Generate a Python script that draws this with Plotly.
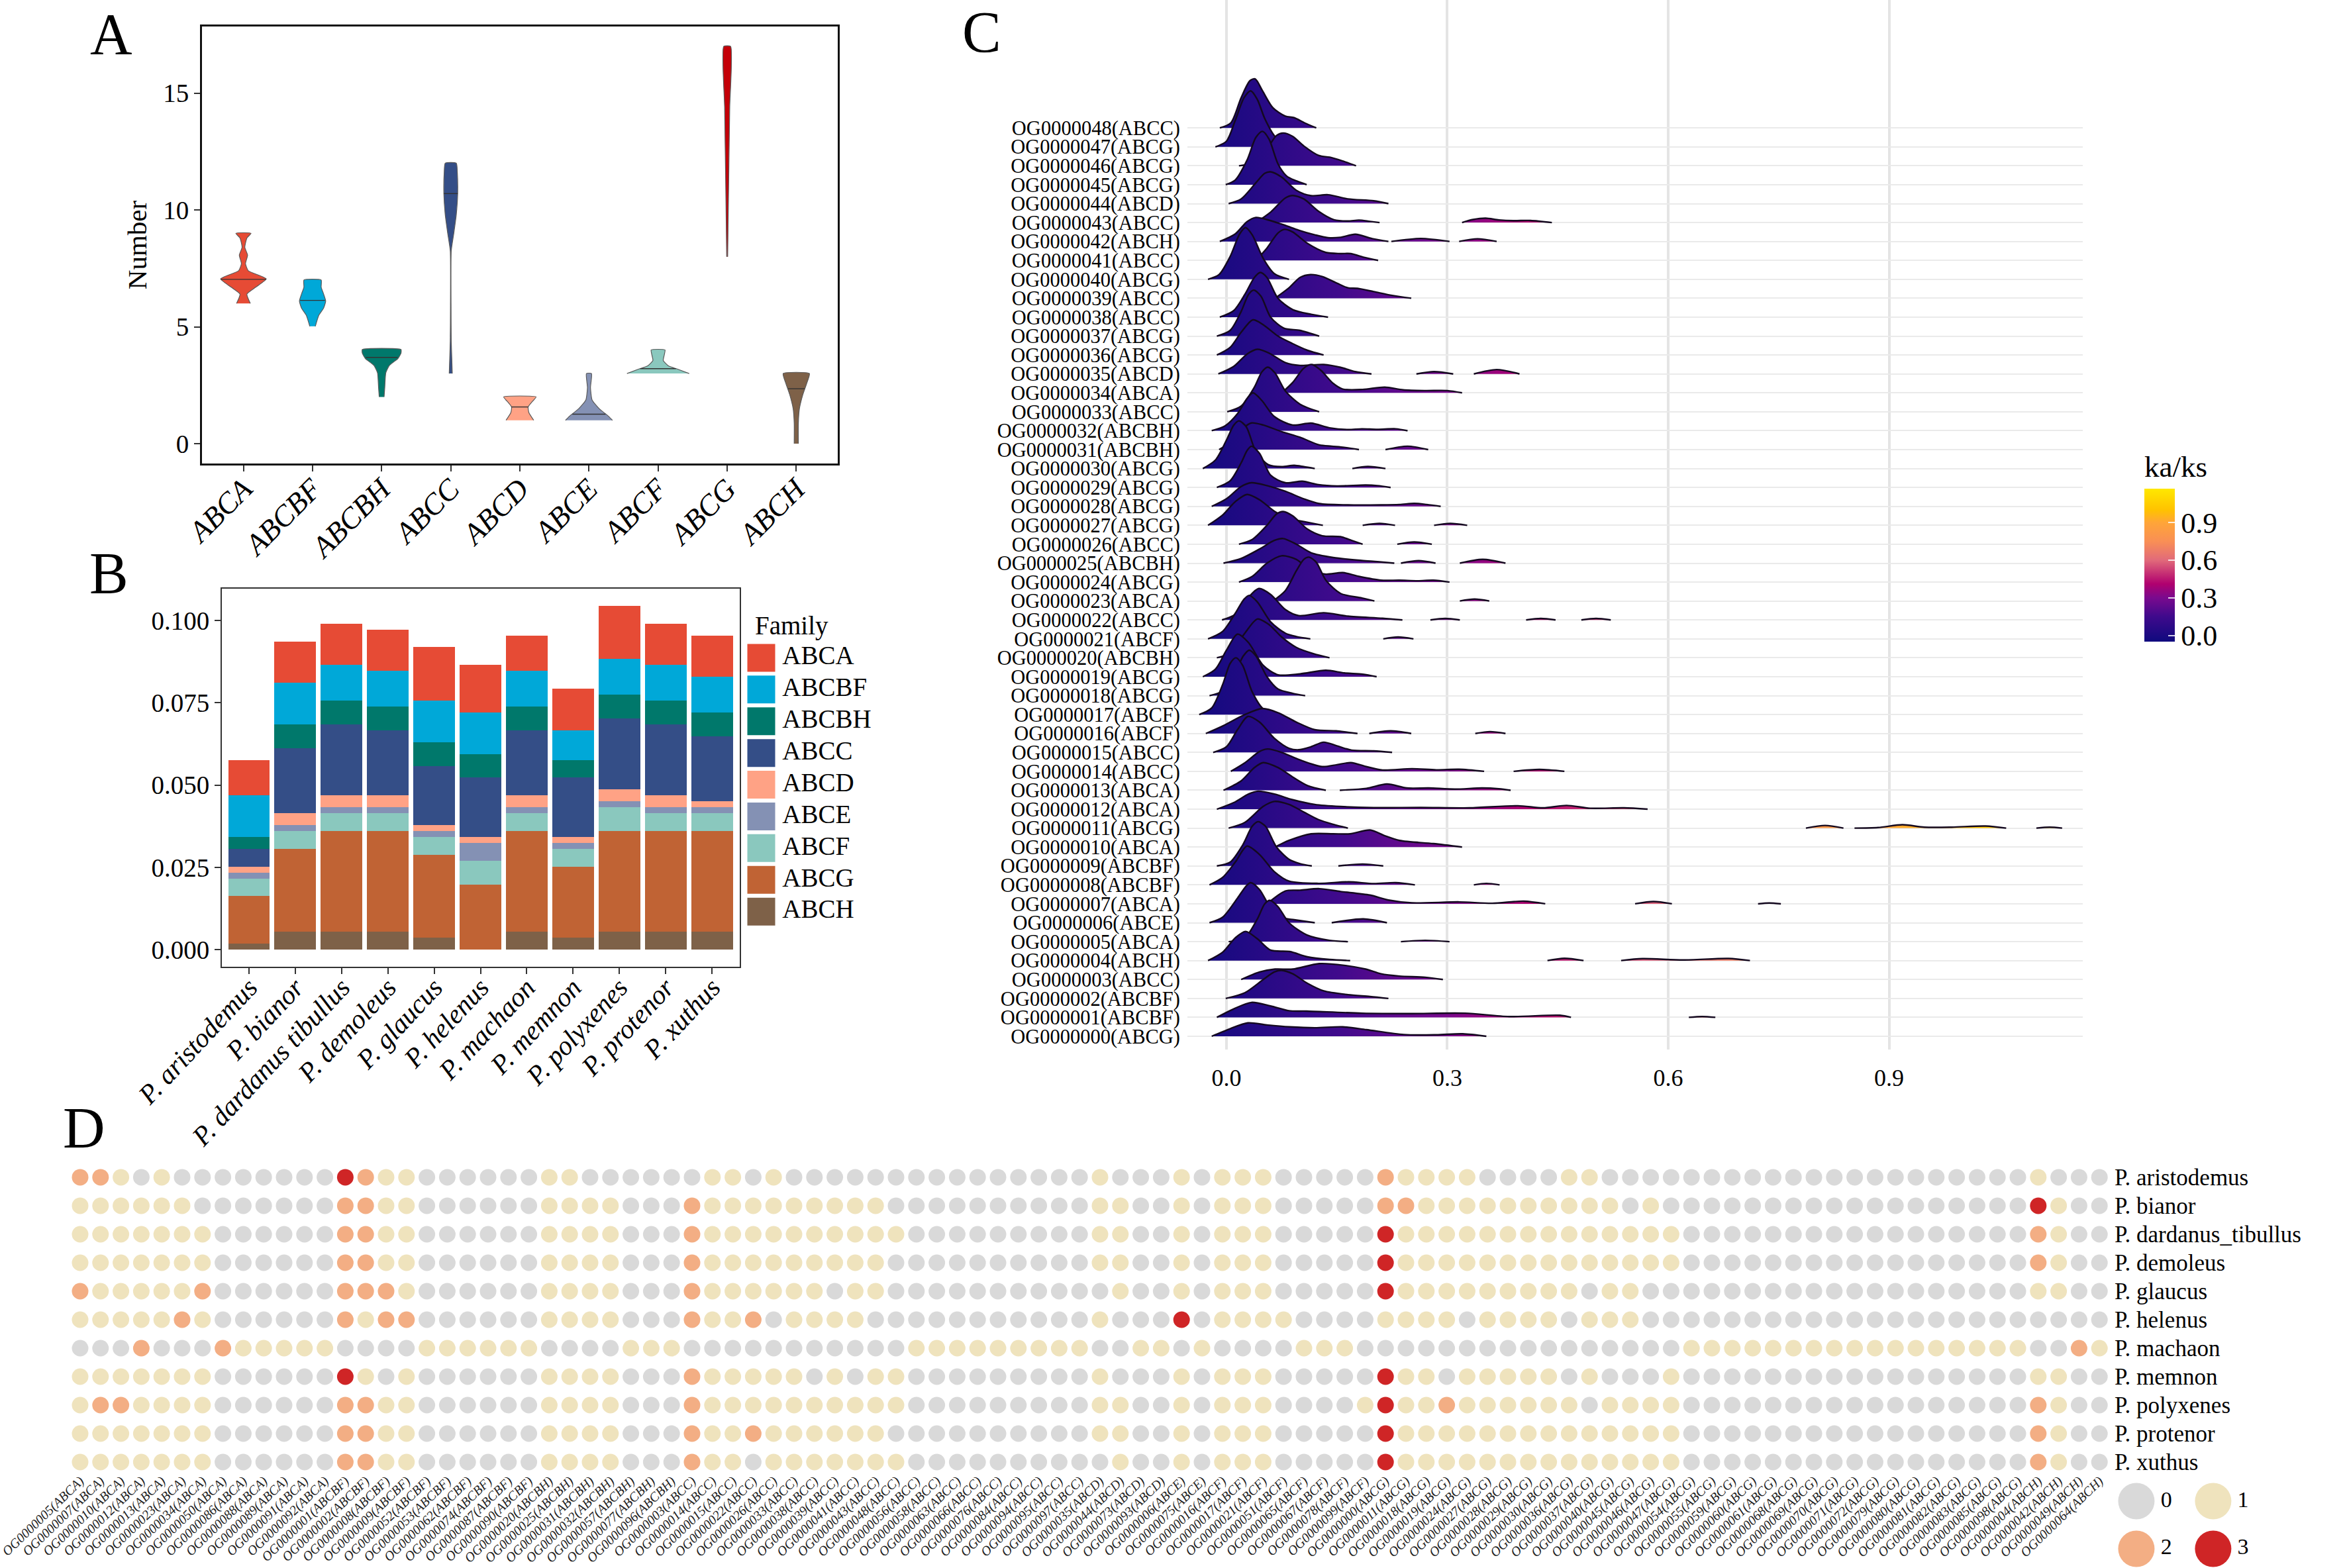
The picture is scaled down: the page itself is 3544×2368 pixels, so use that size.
import plotly.graph_objects as go

W, H = 3544, 2368
FONT = "Liberation Serif"

# ---------- Panel A: violin profiles (y level, half width in category units)
families = ["ABCA", "ABCBF", "ABCBH", "ABCC", "ABCD", "ABCE", "ABCF", "ABCG", "ABCH"]
violin_colors = ["#E64B35", "#00A8D8", "#00786B", "#344E87", "#FFA285", "#8491B4", "#8AC8BE", "#C40008", "#7E6148"]
violin_y = [
    [6.0, 6.4, 6.7, 7.05, 7.4, 7.7, 8.07, 8.4, 8.8, 9.0],
    [5.02, 5.49, 5.8, 6.1, 6.4, 6.7, 7.0],
    [2.0, 2.4, 3.03, 3.34, 3.64, 3.87, 4.03],
    [3.0, 3.64, 4.4, 5.95, 8.25, 9.0, 9.8, 10.7, 11.6, 12.0],
    [1.0, 1.33, 1.57, 1.8, 2.0],
    [1.0, 1.18, 1.49, 1.87, 2.4, 3.0],
    [3.0, 3.18, 3.33, 3.56, 3.8, 4.01],
    [8.0, 11.3, 14.4, 17.0],
    [0.0, 0.88, 1.49, 2.1, 2.57, 3.0],
]
violin_w = [
    [.10, .05, .18, .33, .07, .03, .06, .02, .05, .11],
    [.04, .09, .16, .19, .16, .125, .125],
    [.035, .045, .06, .11, .235, .28, .28],
    [.022, .015, .007, .004, .007, .044, .08, .10, .095, .08],
    [.20, .13, .12, .18, .235],
    [.34, .28, .15, .045, .022, .037],
    [.45, .29, .15, .075, .09, .10],
    [.007, .022, .037, .05],
    [.03, .03, .045, .095, .15, .19],
]
violin_median = [7.03, 6.13, 3.69, 10.7, 1.57, 1.26, 3.21, None, 2.35]
violin_median_w = [.33, .18, .23, .10, .12, .24, .26, None, .12]

# ---------- Panel B: gene counts per species, shown as proportion of 555
species = ["P. aristodemus", "P. bianor", "P. dardanus tibullus", "P. demoleus", "P. glaucus", "P. helenus",
           "P. machaon", "P. memnon", "P. polyxenes", "P. protenor", "P. xuthus"]
bar_colors = ["#E64B35", "#00A8D8", "#00786B", "#344E87", "#FFA285", "#8491B4", "#8AC8BE", "#C06334", "#7E6148"]
total_genes = 555
count_ABCA = [6, 7, 7, 7, 9, 8, 6, 7, 9, 7, 7]
count_ABCBF = [7, 7, 6, 6, 7, 7, 6, 5, 6, 6, 6]
count_ABCBH = [2, 4, 4, 4, 4, 4, 4, 3, 4, 4, 4]
count_ABCC = [3, 11, 12, 11, 10, 10, 11, 10, 12, 12, 11]
count_ABCD = [1, 2, 2, 2, 1, 1, 2, 1, 2, 2, 1]
count_ABCE = [1, 1, 1, 1, 1, 3, 1, 1, 1, 1, 1]
count_ABCF = [3, 3, 3, 3, 3, 4, 3, 3, 4, 3, 3]
count_ABCG = [8, 14, 17, 17, 14, 11, 17, 12, 17, 17, 17]
count_ABCH = [1, 3, 3, 3, 2, 0, 3, 2, 3, 3, 3]
counts = [count_ABCA, count_ABCBF, count_ABCBH, count_ABCC, count_ABCD, count_ABCE, count_ABCF, count_ABCG, count_ABCH]

# ---------- Panel C: ridgelines. Row number -> segments of x and density (in row heights)
ridge_labels = {48: "ABCC", 47: "ABCG", 46: "ABCG", 45: "ABCG", 44: "ABCD", 43: "ABCC", 42: "ABCH", 41: "ABCC",
                40: "ABCG", 39: "ABCC", 38: "ABCC", 37: "ABCG", 36: "ABCG", 35: "ABCD", 34: "ABCA", 33: "ABCC",
                32: "ABCBH", 31: "ABCBH", 30: "ABCG", 29: "ABCG", 28: "ABCG", 27: "ABCG", 26: "ABCC", 25: "ABCBH",
                24: "ABCG", 23: "ABCA", 22: "ABCC", 21: "ABCF", 20: "ABCBH", 19: "ABCG", 18: "ABCG", 17: "ABCF",
                16: "ABCF", 15: "ABCC", 14: "ABCC", 13: "ABCA", 12: "ABCA", 11: "ABCG", 10: "ABCA", 9: "ABCBF",
                8: "ABCBF", 7: "ABCA", 6: "ABCE", 5: "ABCA", 4: "ABCH", 3: "ABCC", 2: "ABCBF", 1: "ABCBF", 0: "ABCG"}
ridge_x, ridge_h = {}, {}
ridge_x[48] = [[-.009, .006, .02, .032, .039, .049, .063, .08, .092, .106, .122]]
ridge_h[48] = [[0, .27, 1.6, 2.5, 2.59, 1.96, 1.07, .62, .54, .27, 0]]
ridge_x[47] = [[-.015, 0, .012, .024, .033, .042, .052, .066, .08, .095]]
ridge_h[47] = [[0, .3, 1.4, 2.6, 2.96, 2.5, 1.5, .55, .15, 0]]
ridge_x[46] = [[.017, .035, .055, .068, .077, .09, .105, .125, .143, .158, .176]]
ridge_h[46] = [[0, .15, .9, 1.6, 1.73, 1.55, 1.05, .55, .43, .25, 0]]
ridge_x[45] = [[-.001, .012, .028, .04, .049, .058, .07, .082, .095, .109]]
ridge_h[45] = [[0, .25, 1.3, 2.5, 2.82, 2.4, 1.1, .45, .2, 0]]
ridge_x[44] = [[.003, .02, .04, .052, .06, .075, .095, .115, .138, .165, .2, .22]]
ridge_h[44] = [[0, .25, 1.1, 1.6, 1.68, 1.4, .7, .42, .47, .25, .15, 0]]
ridge_x[43] = [[.04, .06, .08, .09, .105, .125, .146, .165, .18, .195, .208], [.32, .335, .352, .37, .39, .413, .442]]
ridge_h[43] = [[0, .55, 1.3, 1.43, 1.25, .6, .15, .08, .13, .06, 0], [0, .16, .23, .14, .1, .11, 0]]
ridge_x[42] = [[-.009, .012, .028, .04, .06, .08, .098, .12, .138, .155, .175, .198, .22], [.224, .264, .303], [.316, .341, .367]]
ridge_h[42] = [[0, .4, 1.05, 1.27, 1.1, .85, .6, .35, .2, .22, .38, .15, 0], [0, .16, 0], [0, .14, 0]]
ridge_x[41] = [[.04, .055, .07, .079, .09, .11, .135, .155, .169, .188, .206]]
ridge_h[41] = [[0, .65, 1.45, 1.64, 1.5, .9, .42, .36, .36, .15, 0]]
ridge_x[40] = [[-.025, -.01, .005, .018, .026, .035, .05, .065, .085]]
ridge_h[40] = [[0, .25, 1.2, 2.4, 2.73, 2.35, 1.1, .3, 0]]
ridge_x[39] = [[.066, .085, .1, .114, .13, .15, .165, .178, .2, .225, .251]]
ridge_h[39] = [[0, .55, 1.1, 1.25, 1.15, .8, .55, .52, .35, .15, 0]]
ridge_x[38] = [[-.009, .01, .025, .038, .046, .055, .07, .09, .115, .138]]
ridge_h[38] = [[0, .35, 1.2, 2.1, 2.36, 2.1, 1, .4, .15, 0]]
ridge_x[37] = [[-.013, .005, .02, .03, .037, .047, .06, .078, .1, .126]]
ridge_h[37] = [[0, .3, 1.3, 2.2, 2.43, 2.1, 1.0, .42, .3, 0]]
ridge_x[36] = [[-.013, .005, .02, .036, .05, .07, .09, .11, .132]]
ridge_h[36] = [[0, .4, 1.2, 1.86, 1.6, 1, .6, .25, 0]]
ridge_x[35] = [[-.011, .01, .028, .042, .058, .08, .1, .132, .155, .175, .197], [.258, .282, .308], [.336, .367, .398]]
ridge_h[35] = [[0, .4, 1.05, 1.3, 1.1, .6, .45, .5, .35, .12, 0], [0, .12, 0], [0, .23, 0]]
ridge_x[34] = [[.075, .09, .105, .116, .128, .145, .158, .185, .215, .24, .27, .3, .32]]
ridge_h[34] = [[0, .55, 1.3, 1.5, 1.2, .5, .2, .18, .3, .16, .12, .12, 0]]
ridge_x[33] = [[.001, .02, .038, .048, .056, .066, .08, .1, .126]]
ridge_h[33] = [[0, .3, 1.3, 2.1, 2.36, 2.05, 1.1, .4, 0]]
ridge_x[32] = [[-.02, -.002, .015, .028, .036, .048, .065, .09, .115, .14, .165, .184, .205, .23, .246]]
ridge_h[32] = [[0, .25, .9, 1.7, 2, 1.6, .75, .3, .4, .15, .06, .1, .07, .1, 0]]
ridge_x[31] = [[-.01, .01, .025, .034, .05, .075, .1, .126, .143, .16, .18], [.216, .246, .274]]
ridge_h[31] = [[0, .5, 1.2, 1.41, 1.3, .95, .65, .25, .18, .12, 0], [0, .18, 0]]
ridge_x[30] = [[-.032, -.015, 0, .01, .017, .027, .04, .057, .075, .092, .105, .12], [.171, .192, .216]]
ridge_h[30] = [[0, .45, 1.5, 2.3, 2.52, 2.2, .9, .2, .1, .17, .1, 0], [0, .11, 0]]
ridge_x[29] = [[-.013, .005, .02, .028, .034, .045, .06, .08, .103, .125, .15, .189, .205, .223]]
ridge_h[29] = [[0, .35, 1.3, 1.95, 2.18, 1.8, .65, .25, .33, .15, .08, .13, .1, 0]]
ridge_x[28] = [[-.02, 0, .02, .034, .055, .08, .105, .126, .165, .21, .235, .255, .272, .291]]
ridge_h[28] = [[0, .4, 1.05, 1.25, 1.1, .8, .4, .15, .08, .08, .1, .16, .1, 0]]
ridge_x[27] = [[-.025, -.005, .012, .028, .045, .065, .085, .105, .131], [.185, .208, .229], [.282, .304, .327]]
ridge_h[27] = [[0, .55, 1.25, 1.63, 1.35, .75, .35, .2, 0], [0, .1, 0], [0, .1, 0]]
ridge_x[26] = [[.017, .035, .055, .068, .077, .09, .11, .13, .155, .17, .185], [.232, .255, .279]]
ridge_h[26] = [[0, .25, 1.0, 1.6, 1.73, 1.5, .8, .45, .4, .2, 0], [0, .12, 0]]
ridge_x[25] = [[-.004, .02, .045, .065, .077, .095, .115, .145, .184, .205, .228], [.237, .261, .284], [.317, .348, .379]]
ridge_h[25] = [[0, .25, .75, 1.2, 1.3, 1.0, .55, .3, .14, .08, 0], [0, .13, 0], [0, .2, 0]]
ridge_x[24] = [[.017, .035, .055, .075, .095, .115, .135, .158, .18, .21, .235, .26, .281, .303]]
ridge_h[24] = [[0, .3, 1.0, 1.39, 1.2, .6, .42, .5, .3, .1, .1, .07, .1, 0]]
ridge_x[23] = [[.063, .08, .095, .105, .112, .122, .135, .155, .184, .201], [.317, .337, .357]]
ridge_h[23] = [[0, .55, 1.6, 2.2, 2.32, 2.05, 1.1, .4, .16, 0], [0, .1, 0]]
ridge_x[22] = [[-.006, .012, .03, .044, .06, .08, .098, .132, .165, .212, .239], [.277, .297, .317], [.407, .427, .447], [.482, .502, .522]]
ridge_h[22] = [[0, .3, 1.2, 1.66, 1.35, .55, .23, .38, .2, .09, 0], [0, .08, 0], [0, .08, 0], [0, .08, 0]]
ridge_x[21] = [[-.025, -.005, .012, .024, .031, .042, .06, .08, .095, .114], [.213, .233, .254]]
ridge_h[21] = [[0, .4, 1.35, 2.1, 2.3, 1.95, .9, .3, .12, 0], [0, .1, 0]]
ridge_x[20] = [[-.013, .005, .025, .042, .058, .075, .095, .118, .14]]
ridge_h[20] = [[0, .25, 1.3, 2.05, 1.75, 1.1, .55, .22, 0]]
ridge_x[19] = [[-.032, -.015, 0, .015, .03, .05, .07, .1, .135, .16, .185, .204]]
ridge_h[19] = [[0, .4, 1.4, 2.25, 1.8, .6, .1, .15, .34, .2, .13, 0]]
ridge_x[18] = [[-.023, -.005, .012, .023, .031, .04, .055, .07, .09, .107]]
ridge_h[18] = [[0, .25, 1.25, 2.1, 2.4, 2.1, 1.0, .35, .12, 0]]
ridge_x[17] = [[-.037, -.02, -.005, .005, .013, .022, .035, .05, .07]]
ridge_h[17] = [[0, .35, 1.6, 2.7, 3, 2.6, 1.2, .3, 0]]
ridge_x[16] = [[-.028, -.005, .025, .049, .07, .095, .12, .149, .165, .178], [.194, .223, .251], [.338, .358, .379]]
ridge_h[16] = [[0, .4, 1.0, 1.32, 1.1, .6, .2, .14, .06, 0], [0, .14, 0], [0, .1, 0]]
ridge_x[15] = [[-.018, 0, .015, .029, .045, .065, .085, .098, .115, .132, .15, .17, .2, .225]]
ridge_h[15] = [[0, .3, 1.2, 1.9, 1.6, .75, .22, .14, .3, .54, .35, .12, .08, 0]]
ridge_x[14] = [[.006, .025, .045, .056, .075, .1, .13, .15, .169, .19, .212, .252, .285, .316, .35], [.39, .425, .459]]
ridge_h[14] = [[0, .45, 1.05, 1.18, 1, .6, .25, .35, .46, .25, .07, .14, .08, .11, 0], [0, .1, 0]]
ridge_x[13] = [[-.004, .02, .038, .05, .07, .09, .11, .135], [.154, .19, .218, .245, .275, .31, .347, .37, .386]]
ridge_h[13] = [[0, .5, 1.2, 1.46, 1.2, .7, .25, 0], [0, .1, .33, .12, .12, .06, .12, .08, 0]]
ridge_x[12] = [[-.013, .01, .03, .043, .065, .09, .12, .155, .2, .264, .33, .396, .43, .462, .494, .54, .572]]
ridge_h[12] = [[0, .35, .8, .95, .8, .5, .25, .14, .08, .09, .07, .18, .07, .2, .05, .07, 0]]
ridge_x[11] = [[.003, .025, .05, .065, .085, .105, .125, .145, .165], [.787, .813, .838], [.853, .885, .918, .948, .985, 1.031, 1.059], [1.10, 1.118, 1.135]]
ridge_h[11] = [[0, .3, 1.15, 1.41, 1.25, .85, .45, .2, 0], [0, .14, 0], [0, .03, .18, .05, .05, .11, 0], [0, .05, 0]]
ridge_x[10] = [[.066, .085, .115, .145, .168, .195, .215, .235, .281, .32]]
ridge_h[10] = [[0, .35, .7, .7, .7, .9, .6, .35, .18, 0]]
ridge_x[9] = [[-.013, .005, .022, .035, .043, .053, .068, .085, .1, .116], [.152, .185, .213]]
ridge_h[9] = [[0, .2, 1.1, 2.1, 2.34, 2.1, 1.0, .35, .12, 0], [0, .1, 0]]
ridge_x[8] = [[-.023, -.005, .012, .028, .045, .065, .085, .125, .166, .2, .23, .256], [.336, .353, .371]]
ridge_h[8] = [[0, .4, 1.2, 2.05, 1.6, .7, .2, .08, .16, .07, .12, 0], [0, .08, 0]]
ridge_x[7] = [[.055, .08, .1, .126, .155, .195, .22, .252, .316, .361, .404, .433], [.555, .58, .605], [.722, .737, .753]]
ridge_h[7] = [[0, .68, .72, .8, .65, .46, .2, .05, .1, .03, .14, 0], [0, .12, 0], [0, .04, 0]]
ridge_x[6] = [[-.023, -.005, .015, .027, .033, .045, .06, .078, .092, .12], [.143, .186, .218]]
ridge_h[6] = [[0, .3, 1.3, 1.95, 2.12, 1.75, .8, .25, .16, 0], [0, .2, 0]]
ridge_x[5] = [[.003, .025, .042, .052, .059, .07, .085, .109, .14, .165], [.237, .27, .303]]
ridge_h[5] = [[0, .2, 1.2, 2.0, 2.18, 1.85, 1.0, .36, .07, 0], [0, .07, 0]]
ridge_x[4] = [[-.025, -.005, .012, .026, .042, .06, .086, .11, .14, .168], [.436, .459, .485], [.536, .565, .62, .682, .711]]
ridge_h[4] = [[0, .45, 1.2, 1.54, 1.15, .55, .48, .2, .06, 0], [0, .12, 0], [0, .1, .03, .11, 0]]
ridge_x[3] = [[.02, .045, .066, .09, .126, .16, .189, .21, .235, .27, .294]]
ridge_h[3] = [[0, .4, .55, .55, .84, .75, .55, .3, .18, .12, 0]]
ridge_x[2] = [[-.001, .025, .05, .065, .075, .09, .11, .132, .165, .195, .22]]
ridge_h[2] = [[0, .3, 1, 1.4, 1.48, 1.3, .8, .4, .2, .1, 0]]
ridge_x[1] = [[-.013, .01, .034, .06, .085, .109, .184, .25, .324, .384, .453, .468], [.628, .646, .664]]
ridge_h[1] = [[0, .45, .79, .6, .35, .33, .22, .2, .22, .04, .11, 0], [0, .04, 0]]
ridge_x[0] = [[-.02, .005, .029, .055, .086, .12, .158, .19, .241, .285, .321, .353]]
ridge_h[0] = [[0, .4, .71, .6, .5, .45, .5, .35, .09, .08, .13, 0]]

ka_min, ka_max = -.05, 1.17
ka_stops = [(-.05, "#0F0A7E"), (.15, "#3F0A8C"), (.3, "#7A0A8E"), (.41, "#B0006F"), (.6, "#E16A7A"),
            (.75, "#F98F55"), (.9, "#FFA538"), (1.0, "#FFC200"), (1.17, "#FFE800")]
ka_scale = [[(v - ka_min) / (ka_max - ka_min), c] for v, c in ka_stops]

# ---------- Panel D: copy number per orthogroup (columns grouped by family)
og_ids = {
    "ABCA": ["005", "007", "010", "012", "013", "023", "034", "050", "086", "088", "089", "091", "092"],
    "ABCBF": ["001", "002", "008", "009", "052", "053", "062", "074", "087", "090"],
    "ABCBH": ["020", "025", "031", "032", "057", "077", "096"],
    "ABCC": ["003", "014", "015", "022", "026", "033", "038", "039", "041", "043", "048", "056", "058", "063", "066", "076", "084", "094", "095", "097"],
    "ABCD": ["035", "044", "073", "093"],
    "ABCE": ["006", "075"],
    "ABCF": ["016", "017", "021", "051", "065", "067", "078", "099"],
    "ABCG": ["000", "011", "018", "019", "024", "027", "028", "029", "030", "036", "037", "040", "045", "046", "047", "054", "055", "059", "060", "061", "068", "069", "070", "071", "072", "079", "080", "081", "082", "083", "085", "098"],
    "ABCH": ["004", "042", "049", "064"],
}
dot_species = ["P. aristodemus", "P. bianor", "P. dardanus_tibullus", "P. demoleus", "P. glaucus", "P. helenus",
               "P. machaon", "P. memnon", "P. polyxenes", "P. protenor", "P. xuthus"]
dots_aristodemus = ["2210100000000", "3211000000", "1100000", "01101000000000000000", "1000", "10", "11100000", "21111000011000000000000000000000", "1000"]
dots_bianor = ["1111110000000", "2211000000", "1111000", "21111111110000000000", "1100", "10", "11100000", "22111111111101000000000000000000", "3100"]
dots_dardanus = ["1111111000000", "2211000000", "1111000", "21111111111000000000", "1100", "10", "11100000", "31111111111111100000000000000000", "2100"]
dots_demoleus = ["1111111000000", "2211000000", "1111000", "21111111110000000000", "1100", "10", "11100000", "31111111111111100000000000000000", "2100"]
dots_glaucus = ["2111112000000", "2221000000", "1111000", "21111110110000000000", "0100", "10", "11100000", "31111111110110000000000000000000", "1100"]
dots_helenus = ["1111121000000", "2122000000", "1111000", "21120111100000000000", "1000", "30", "11110000", "11110111101110000000000000000000", "0000"]
dots_machaon = ["0002000211111", "0000111111", "0000111", "00000000000111111111", "0011", "01", "00001110", "00000000000000011111111111111111", "0021"]
dots_memnon = ["1111111000000", "3101000000", "1111000", "21111101011000000000", "1000", "10", "11100000", "31101111101000100000000000000000", "1100"]
dots_polyxenes = ["1221111000000", "2211000000", "1111000", "21111111111000000000", "1100", "10", "11100001", "31121111110111100000000000000000", "2100"]
dots_protenor = ["1111111000000", "2211000000", "1111000", "21121111110000000000", "1100", "10", "11100000", "31111111111111100000000000000000", "2100"]
dots_xuthus = ["1111111000000", "2211000000", "1111000", "21101111111000000000", "0100", "10", "11100000", "31111111111111100000000000000000", "2100"]
dot_rows = [dots_aristodemus, dots_bianor, dots_dardanus, dots_demoleus, dots_glaucus, dots_helenus,
            dots_machaon, dots_memnon, dots_polyxenes, dots_protenor, dots_xuthus]
dot_colors = ["#D9D9D9", "#EFE3BD", "#F3AE84", "#CF2526"]
dot_levels = ["0", "1", "2", "3"]


def dx(a, b):
    return [a / W, b / W]


def dy(top, bottom):
    return [1 - bottom / H, 1 - top / H]


fig = go.Figure()
TXT = "#000000"

# ---- A
for i, fam in enumerate(families):
    w, y = violin_w[i], violin_y[i]
    xs = [i - v for v in w] + [i + v for v in reversed(w)]
    ys = list(y) + list(reversed(y))
    fig.add_trace(go.Scatter(x=xs, y=ys, mode="lines", fill="toself", fillcolor=violin_colors[i],
                             line=dict(color="#5A5A5A", width=1.2, shape="spline", smoothing=.5),
                             xaxis="x", yaxis="y", hoverinfo="skip", showlegend=False))
    if violin_median[i] is not None:
        fig.add_trace(go.Scatter(x=[i - violin_median_w[i], i + violin_median_w[i]],
                                 y=[violin_median[i], violin_median[i]], mode="lines",
                                 line=dict(color="#333333", width=1.4), xaxis="x", yaxis="y",
                                 hoverinfo="skip", showlegend=False))

# ---- B
for i in range(8, -1, -1):
    fig.add_trace(go.Bar(x=list(range(11)), y=[c / total_genes for c in counts[i]], width=.9,
                         marker=dict(color=bar_colors[i], line=dict(width=0)), xaxis="x2", yaxis="y2",
                         showlegend=False, hoverinfo="skip"))
fig.add_trace(go.Scatter(x=[.125] * 9, y=list(range(9)), mode="markers",
                         marker=dict(symbol="square", size=42, color=bar_colors, line=dict(width=0)),
                         cliponaxis=False, xaxis="x5", yaxis="y5", showlegend=False, hoverinfo="skip"))
fig.add_trace(go.Scatter(x=[.31] * 9, y=list(range(9)), mode="text", text=families,
                         textposition="middle right", textfont=dict(family=FONT, size=39, color=TXT),
                         cliponaxis=False, xaxis="x5", yaxis="y5", showlegend=False, hoverinfo="skip"))

# ---- C
for r in range(48, -1, -1):
    for xs, hs in zip(ridge_x[r], ridge_h[r]):
        fig.add_trace(go.Scatter(x=xs, y=[r + h for h in hs], mode="lines", fill="toself",
                                 fillgradient=dict(type="horizontal", colorscale=ka_scale, start=ka_min, stop=ka_max),
                                 line=dict(color="#14091F", width=2.4, shape="spline", smoothing=.8),
                                 xaxis="x3", yaxis="y3", hoverinfo="skip", showlegend=False))
fig.add_trace(go.Scatter(x=[None], y=[None], mode="markers", xaxis="x3", yaxis="y3", showlegend=False,
                         marker=dict(color=[ka_min, ka_max], cmin=ka_min, cmax=ka_max, colorscale=ka_scale, showscale=True,
                                     colorbar=dict(x=3238 / W, xanchor="left", y=1 - 969 / H, yanchor="bottom",
                                                   lenmode="pixels", len=286, thicknessmode="pixels", thickness=46,
                                                   xpad=0, ypad=0, outlinewidth=0, tickvals=[0, .3, .6, .9],
                                                   ticktext=["0.0", "0.3", "0.6", "0.9"], ticks="inside", ticklen=10,
                                                   tickcolor="rgba(255,255,255,.8)", tickwidth=1.5,
                                                   tickfont=dict(family=FONT, size=44, color=TXT),
                                                   title=dict(text="ka/ks", side="top", font=dict(family=FONT, size=45, color=TXT))))))

# ---- D
columns = []
for fam, ids in og_ids.items():
    columns += [f"OG0000{n}({fam})" for n in ids]
matrix = ["".join(parts) for parts in dot_rows]
assert all(len(m) == 100 for m in matrix) and len(columns) == 100
for level, name in enumerate(dot_levels):
    xs, ys = [], []
    for r, row in enumerate(matrix):
        for c, v in enumerate(row):
            if v == name:
                xs.append(c)
                ys.append(r)
    fig.add_trace(go.Scatter(x=xs, y=ys, mode="markers", marker=dict(size=25, color=dot_colors[level], line=dict(width=0)),
                             xaxis="x4", yaxis="y4", hoverinfo="skip", showlegend=False))
legend_col = [0, 1, 0, 1]
legend_row = [0, 0, 1, 1]
fig.add_trace(go.Scatter(x=legend_col, y=legend_row, mode="markers",
                         marker=dict(size=55, color=dot_colors, line=dict(width=0)), cliponaxis=False,
                         xaxis="x6", yaxis="y6", hoverinfo="skip", showlegend=False))
fig.add_trace(go.Scatter(x=[c + .39 for c in legend_col], y=legend_row, mode="text", text=dot_levels,
                         textposition="middle center", textfont=dict(family=FONT, size=34, color=TXT),
                         cliponaxis=False, xaxis="x6", yaxis="y6", hoverinfo="skip", showlegend=False))

axis_font = dict(family=FONT, size=39, color=TXT)
fig.update_layout(
    width=W, height=H, margin=dict(l=0, r=0, t=0, b=0, autoexpand=False), paper_bgcolor="white", plot_bgcolor="white",
    barmode="stack", bargap=.1, showlegend=False, font=dict(family=FONT, color=TXT),
    xaxis=dict(domain=dx(305, 1265), range=[-.6, 8.6], anchor="y", tickmode="array", tickvals=list(range(9)),
               ticktext=families, tickangle=-45, tickfont=dict(family=FONT, size=45, color=TXT, style="italic"),
               showgrid=False, zeroline=False, showline=True, mirror=True, linecolor="#111111", linewidth=3,
               ticks="outside", ticklen=9, tickwidth=2, tickcolor="#333333", ticklabelstandoff=-18),
    yaxis=dict(domain=dy(40, 700), range=[-.85, 17.85], anchor="x", tickmode="array", tickvals=[0, 5, 10, 15],
               tickfont=axis_font, showgrid=False, zeroline=False, showline=True, mirror=True, linecolor="#111111",
               linewidth=3, ticks="outside", ticklen=9, tickwidth=2, tickcolor="#333333",
               title=dict(text="Number", font=dict(family=FONT, size=41, color=TXT), standoff=12)),
    xaxis2=dict(domain=dx(335, 1117), range=[-.587, 10.6], anchor="y2", tickmode="array", tickvals=list(range(11)),
                ticktext=species, tickangle=-47, tickfont=dict(family=FONT, size=41, color=TXT, style="italic"),
                showgrid=False, zeroline=False, showline=True, mirror=True, linecolor="#333333", linewidth=2,
                ticks="outside", ticklen=9, tickwidth=2, tickcolor="#333333", ticklabelstandoff=-20),
    yaxis2=dict(domain=dy(889, 1460), range=[-.00522, .1097], anchor="x2", tickmode="array",
                tickvals=[0, .025, .05, .075, .1], ticktext=["0.000", "0.025", "0.050", "0.075", "0.100"],
                tickfont=axis_font, showgrid=False, zeroline=False, showline=True, mirror=True, linecolor="#333333",
                linewidth=2, ticks="outside", ticklen=9, tickwidth=2, tickcolor="#333333"),
    xaxis3=dict(domain=dx(1793, 3145), range=[-.053, 1.163], anchor="y3", tickmode="array", tickvals=[0, .3, .6, .9],
                ticktext=["0.0", "0.3", "0.6", "0.9"], tickfont=dict(family=FONT, size=36, color=TXT), showgrid=True,
                gridcolor="#E4E4E4", gridwidth=3.5, zeroline=False, showline=False, ticks="", ticklabelstandoff=18),
    yaxis3=dict(domain=dy(0, 1585), range=[-.7, 54.76], anchor="x3", tickmode="array", tickvals=list(range(49)),
                ticktext=[f"OG{r:07d}({ridge_labels[r]})" for r in range(49)],
                tickfont=dict(family=FONT, size=30.5, color=TXT), showgrid=True, gridcolor="#EAEAEA", gridwidth=2,
                zeroline=False, showline=False, ticks="", ticklabelstandoff=10),
    xaxis4=dict(domain=dx(100, 3185), range=[-21 / 30.8, 3064 / 30.8], anchor="y4", tickmode="array",
                tickvals=list(range(100)), ticktext=columns, tickangle=-44, ticklabeloverflow="allow",
                tickfont=dict(family=FONT, size=20, color="#222222", style="italic"), showgrid=False, zeroline=False,
                showline=False, ticks="", ticklabelstandoff=-5),
    yaxis4=dict(domain=dy(1750, 2225), range=[10.395, -.65], anchor="x4", side="right", tickmode="array",
                tickvals=list(range(11)), ticktext=dot_species, tickfont=dict(family=FONT, size=35, color=TXT),
                showgrid=False, zeroline=False, showline=False, ticks="", ticklabelstandoff=7),
    xaxis5=dict(domain=dx(1128, 1300), range=[0, 1], anchor="y5", visible=False),
    yaxis5=dict(domain=dy(969.5, 1400.6), range=[8.5, -.5], anchor="x5", visible=False),
    xaxis6=dict(domain=dx(3190, 3430), range=[-.31, 1.76], anchor="y6", visible=False),
    yaxis6=dict(domain=dy(2230, 2368), range=[1.403, -.514], anchor="x6", visible=False),
    annotations=[
        dict(text=t, x=x / W, y=1 - y / H, xref="paper", yref="paper", xanchor="left", yanchor="middle", showarrow=False,
             font=dict(family=FONT, size=88, color="#000000"))
        for t, x, y in [("A", 134, 51), ("B", 133, 866), ("C", 1451, 48), ("D", 93, 1703)]
    ] + [dict(text="Family", x=1138 / W, y=1 - 945 / H, xref="paper", yref="paper", xanchor="left", yanchor="middle",
              showarrow=False, font=axis_font)],
)
fig.write_html("out.html", config={"displayModeBar": False},
               post_script="document.body.style.margin='0';document.documentElement.style.margin='0';")
